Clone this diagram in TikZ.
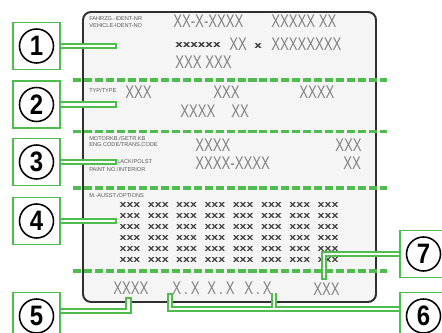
\documentclass[tikz,border=0pt]{standalone}
\usepackage{fontspec}
\usetikzlibrary{backgrounds}
\newfontfamily\platefont[FakeStretch=0.72]{Liberation Sans}
\newfontfamily\gridfont[FakeStretch=1.3]{DejaVu Sans}
\newfontfamily\numfont[FakeStretch=0.85]{Liberation Sans}
\newfontfamily\tagfont{Liberation Sans}
\definecolor{markgreen}{RGB}{78,189,78}
\definecolor{platefill}{RGB}{245,245,245}
\definecolor{plateedge}{RGB}{48,48,48}
\definecolor{xgrey}{RGB}{130,130,130}
\definecolor{gridgrey}{RGB}{60,60,60}
\definecolor{taggrey}{RGB}{85,85,85}

\begin{document}
\begin{tikzpicture}[x=0.025cm, y=-0.025cm,
  bigx/.style={font=\platefont\fontsize{13}{13}\selectfont, text=xgrey, inner sep=0pt, anchor=west},
  smallx/.style={font=\gridfont\bfseries\fontsize{4.9}{5}\selectfont, text=gridgrey, inner sep=0pt},
  lowx/.style={font=\gridfont\bfseries\fontsize{6.4}{6.4}\selectfont, text=gridgrey, inner sep=0pt, anchor=west},
  tag/.style={font=\tagfont\fontsize{4}{4.9}\selectfont, text=taggrey, inner sep=0pt, anchor=west, align=left},
  numbox/.style={draw=markgreen, line width=1.4pt, fill=white, minimum width=1.175cm, minimum height=1.175cm, inner sep=0pt},
  numcirc/.style={draw=black, circle, line width=1.1pt, minimum size=0.85cm, inner sep=0pt, font=\numfont\bfseries\fontsize{20}{20}\selectfont},
  leader/.style={draw=markgreen, line width=4.6pt, postaction={draw=white, line width=1.9pt, shorten <=1.35pt, shorten >=1.35pt}},
  divider/.style={draw=markgreen, line width=2.2pt, dash pattern=on 5.7pt off 2.1pt}]
  \useasboundingbox (0,0) rectangle (442,333);
  \clip (0,0) rectangle (442,333);

  % numbered boxes
  \node[numbox] (n1) at (36.5,46) {};
  \node[numcirc] (c1) at (n1) {1};
  \node[numbox] (n2) at (36.5,104.5) {};
  \node[numcirc] (c2) at (n2) {2};
  \node[numbox] (n3) at (36.5,162) {};
  \node[numcirc] (c3) at (n3) {3};
  \node[numbox] (n4) at (36.5,221) {};
  \node[numcirc] (c4) at (n4) {4};
  \node[numbox] (n5) at (36.5,316) {};
  \node[numcirc] (c5) at (n5) {5};
  \node[numbox] (n6) at (423.5,316) {};
  \node[numcirc] (c6) at (n6) {6};
  \node[numbox] (n7) at (423.5,254) {};
  \node[numcirc] (c7) at (n7) {7};

  \begin{scope}[on background layer]
    % the plate
    \draw[plateedge, fill=platefill, line width=1.4pt, rounded corners=0.2cm] (83,12) rectangle (376,302);
    \foreach \y in {80,131.5,188,271}
      \draw[divider] (73,\y) -- (387,\y);

    % vehicle number
    \node[tag] (vinlbl) at (89,22.5) {FAHRZG.-IDENT-NR\\VEHICLE-IDENT-NO};
    \node[bigx] (vin1) at (173,21) {XX-X-XXXX};
    \node[bigx] (vin2) at (271,21) {XXXXX XX};
    \node[lowx] (vin3) at (175,45) {xxxxxx};
    \node[bigx] (vin4) at (229,44) {XX};
    \node[lowx] (vin5) at (254,46) {x};
    \node[bigx] (vin6) at (271,44) {XXXXXXXX};
    \node[bigx] (vin7) at (175,62) {XXX XXX};

    % type
    \node[tag] (typlbl) at (89,90) {TYP/TYPE};
    \node[bigx] (typ1) at (125,92) {XXX};
    \node[bigx] (typ2) at (213,92) {XXX};
    \node[bigx] (typ3) at (299,92) {XXXX};
    \node[bigx] (typ4) at (180,111) {XXXX};
    \node[bigx] (typ5) at (231,111) {XX};

    % engine, gearbox, paint
    \node[tag] (englbl) at (89,141.5) {MOTORKB./GETR.KB\\ENG.CODE/TRANS.CODE};
    \node[tag] (paintlbl) at (117,161) {LACK/POLST};
    \node[tag] (paintlbl2) at (89,169) {PAINT NO./INTERIOR};
    \node[bigx] (eng1) at (195,145) {XXXX};
    \node[bigx] (eng2) at (335,145) {XXX};
    \node[bigx] (paint1) at (195,163) {XXXX-XXXX};
    \node[bigx] (paint2) at (343,163) {XX};

    % options
    \node[tag] (optlbl) at (89,195) {M.-AUSST./OPTIONS};
    \foreach \r in {0,...,5}
      \foreach \c in {0,...,7}
        \node[smallx] (x\r\c) at ({130+28.3*\c},{205+11*\r}) {XXX};

    % bottom row
    \node[bigx] (bot1) at (113,288) {XXXX};
    \node[bigx] (bot2) at (172,288) {X\,.\,X};
    \node[bigx] (bot3) at (207,288) {X\,.\,X};
    \node[bigx] (bot4) at (244,288) {X\,.\,X};
    \node[bigx] (bot5) at (313,289) {XXX};

    % leaders
    \coordinate (e1) at (117,46);
    \coordinate (e2) at (117,104.5);
    \coordinate (e3) at (117,162);
    \coordinate (e4) at (117,221);
    \coordinate (e5) at (128.5,297);
    \coordinate (e6) at (170,293);
    \coordinate (e6b) at (274,293);
    \coordinate (j6) at (274,309);
    \coordinate (e7) at (324,280);
    \draw[leader] (n1.center) -- (e1);
    \draw[leader] (n2.center) -- (e2);
    \draw[leader] (n3.center) -- (e3);
    \draw[leader] (n4.center) -- (e4);
    \draw[leader] (n5.center) ++(0,-5) -| (e5);
    \draw[leader] (e6b) -- (j6) (n6.center |- j6) -| (e6);
    \draw[leader] (n7.center) -| (e7);
  \end{scope}
\end{tikzpicture}
\end{document}
